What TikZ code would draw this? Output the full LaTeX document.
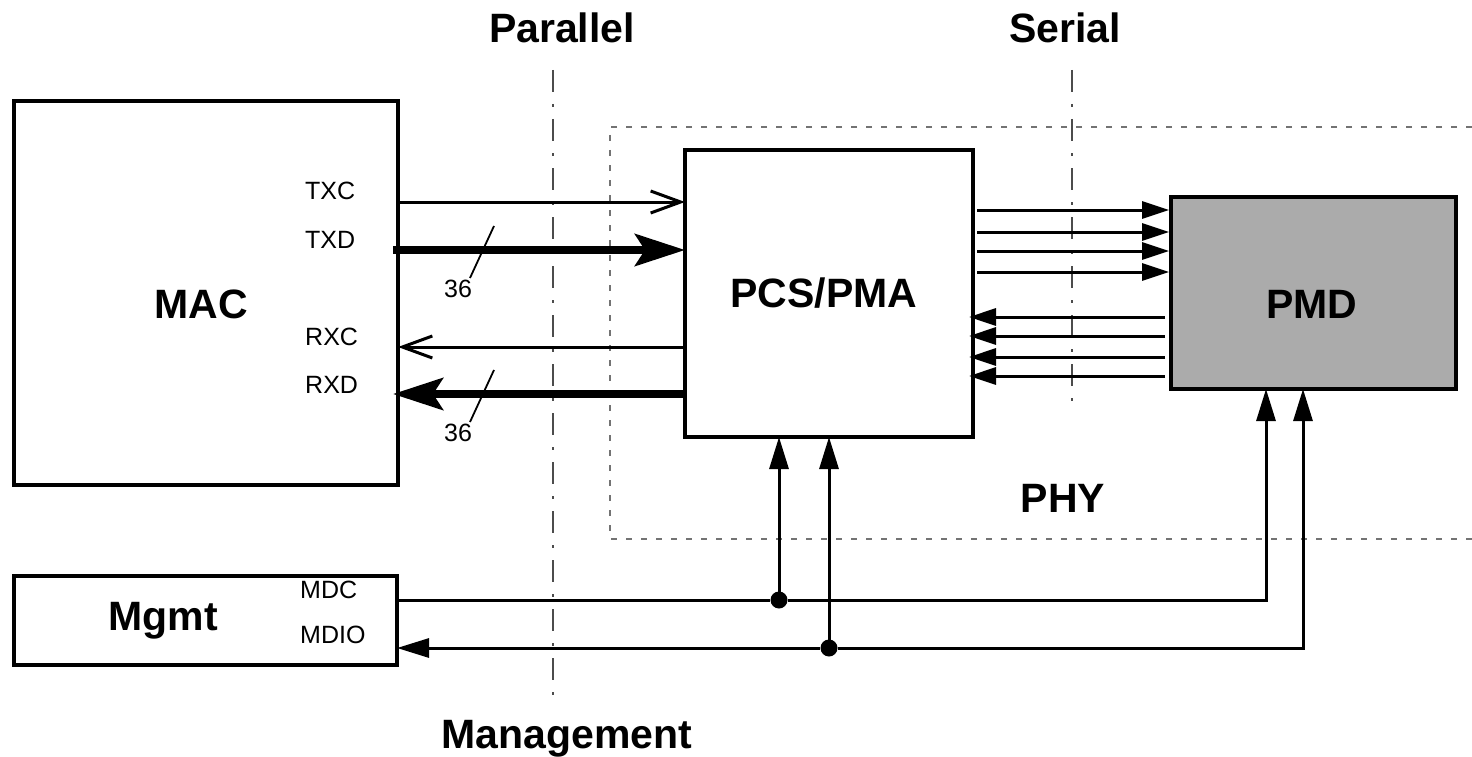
\documentclass[tikz,border=0pt]{standalone}
\usepackage{fontspec}
\setmainfont{Liberation Sans}
\usetikzlibrary{arrows.meta}
\begin{document}
\begin{tikzpicture}[x=1pt,y=-1pt,
  box/.style={draw,line width=3.2pt,inner sep=0pt,outer sep=0pt},
  big/.style={font=\fontsize{41}{41}\selectfont\bfseries},
  small/.style={font=\fontsize{25}{25}\selectfont,inner sep=0pt,anchor=base west},
  thin/.style={line width=3pt},
  thick/.style={line width=7.5pt},
  openhead/.style={thin,-{Straight Barb[length=30pt,width=22pt,line width=3pt]}},
  bighead/.style={thick,-{Stealth[length=50pt,width=32pt,inset=10pt]}},
  tri/.style={thin,-{Triangle[length=27pt,width=17pt]}},
  vtri/.style={thin,-{Triangle[length=32pt,width=19pt]}},
  sep/.style={draw=black!70,line width=1.2pt,dash pattern=on 22pt off 12pt on 3pt off 12pt},
  phy/.style={draw=black!55,line width=1.5pt,dash pattern=on 6pt off 9pt},
  dot/.style={circle,fill=black,inner sep=0pt,minimum size=17pt}]
\useasboundingbox (0,0) rectangle (1472,757);

% PHY region
\draw[phy] (1472,127) -- (610,127) -- (610,539) -- (1472,539);

% separators
\coordinate (parT) at (553,70);
\coordinate (parB) at (553,700);
\coordinate (serT) at (1072,70);
\coordinate (serB) at (1072,405);
\draw[sep] (parT) -- (parB);
\draw[sep] (serT) -- (serB);

% boxes
\node[box,minimum width=384pt,minimum height=384pt] (MAC) at (206,293) {};
\node[box,minimum width=383pt,minimum height=89pt] (MG) at (205.5,620.5) {};
\node[box,minimum width=288pt,minimum height=287pt] (PCS) at (829,293.5) {};
\node[box,fill=black!33,minimum width=285pt,minimum height=192pt] (PMD) at (1313.5,293) {};

% big labels
\node[big,anchor=base] (lpar) at (562,43) {Parallel};
\node[big,anchor=base] (lser) at (1065,43) {Serial};
\node[big,anchor=base] (lman) at (567,748) {Management};
\node[big,anchor=base] (lphy) at (1063,512) {PHY};
\node[big,anchor=base] (lmac) at (201,318) {MAC};
\node[big,anchor=base] (lmg) at (163,630) {Mgmt};
\node[big,anchor=base] (lpcs) at (824,307) {PCS/PMA};
\node[big,anchor=base] (lpmd) at (1312,318) {PMD};

% small labels
\node[small] (ltxc) at (305,199) {TXC};
\node[small] (ltxd) at (305,248) {TXD};
\node[small] (lrxc) at (305,345) {RXC};
\node[small] (lrxd) at (305,393) {RXD};
\node[small] (lmdc) at (300,598) {MDC};
\node[small] (lmdio) at (300,643) {MDIO};
\node[small] (n36a) at (444,297) {36};
\node[small] (n36b) at (444,441) {36};

% parallel interface
\draw[openhead] (MAC.east |- 0,202) -- (PCS.west |- 0,202);
\draw[bighead] ([xshift=-5pt]MAC.east |- 0,250) -- (PCS.west |- 0,250);
\draw[openhead] (PCS.west |- 0,347) -- (MAC.east |- 0,347);
\draw[bighead] (PCS.west |- 0,394) -- ([xshift=-5pt]MAC.east |- 0,394);
\coordinate (s1a) at (494,226); \coordinate (s1b) at (470,278);
\coordinate (s2a) at (494,370); \coordinate (s2b) at (470,422);
\draw[line width=1.8pt] (s1a) -- (s1b);
\draw[line width=1.8pt] (s2a) -- (s2b);

% serial interface
\foreach \y in {210,232,251,272}
  \draw[tri] ([xshift=4pt]PCS.east |- 0,\y) -- ([xshift=-2pt]PMD.west |- 0,\y);
\foreach \y in {317,336,357,376}
  \draw[tri] ([xshift=-6pt]PMD.west |- 0,\y) -- ([xshift=-4pt]PCS.east |- 0,\y);

% management
\node[dot] (d1) at (779,600) {};
\node[dot] (d2) at (829,648) {};
\draw[thin] (MG.east |- 0,600) -- (d1);
\draw[vtri] (d1.center) -- (d1 |- PCS.south) ;
\draw[vtri] (d1) -- (1266,600) -- (1266,0 |- PMD.south);
\draw[vtri] (d2) -- (MG.east |- 0,648);
\draw[vtri] (d2.center) -- (d2 |- PCS.south);
\draw[vtri] (d2) -- (1303,648) -- (1303,0 |- PMD.south);
\end{tikzpicture}
\end{document}
